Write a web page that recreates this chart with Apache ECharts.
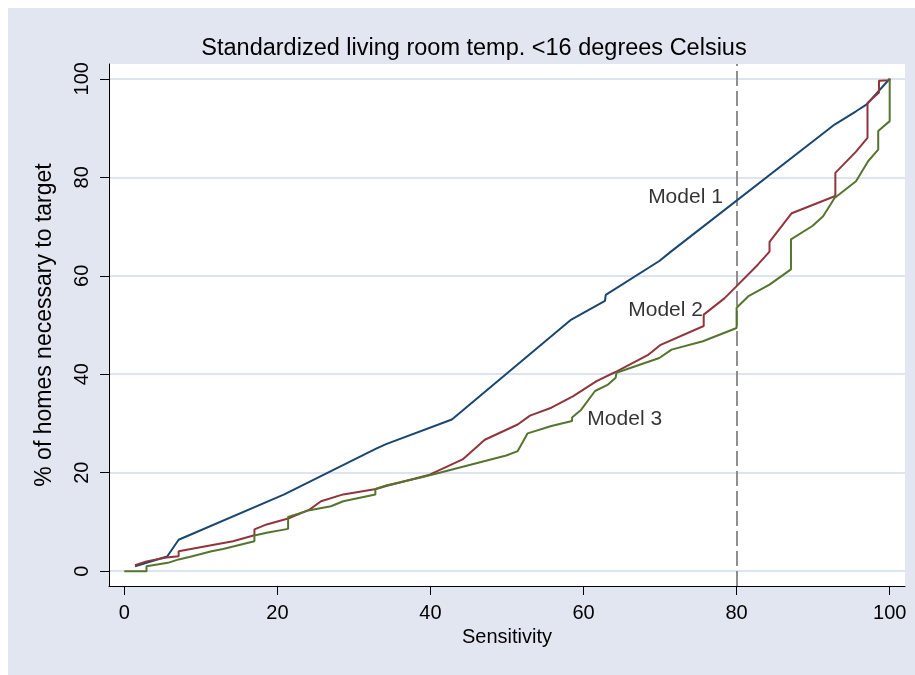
<!DOCTYPE html>
<html>
<head>
<meta charset="utf-8">
<script src="https://cdn.jsdelivr.net/npm/echarts@6/dist/echarts.min.js"></script>
<style>
html,body{margin:0;padding:0;background:#fff;}
#c{width:915px;height:675px;}
</style>
</head>
<body>
<div id="c"></div>
<script>
// ---- data ----
const xTicks = [0, 20, 40, 60, 80, 100];
const yTicks = [0, 20, 40, 60, 80, 100];
const model1 = [[1.4,1.0],[5.6,3.0],[7.1,6.4],[20.9,15.6],[32.9,24.9],[34.2,25.8],[42.8,30.8],[58.4,51.1],[62.8,54.9],[62.9,56.1],[69.9,63.0],[71.5,65.0],[92.8,90.7],[95.6,93.4],[97.0,94.8],[100,100]];
const model2 = [[1.4,1.2],[2.9,2.0],[5.5,2.8],[7.1,3.05],[7.1,4.06],[14.2,6.1],[17.0,7.3],[17.0,8.5],[18.6,9.5],[21.4,10.7],[24.2,12.5],[25.7,14.2],[28.6,15.6],[32.9,16.7],[34.2,17.3],[36.0,18.0],[39.9,19.6],[44.2,22.7],[47.1,26.7],[51.4,29.8],[53.0,31.6],[55.8,33.2],[58.6,35.5],[61.7,38.6],[64.1,40.4],[68.5,44.0],[70.0,45.9],[75.7,49.8],[75.7,52.1],[78.4,55.4],[80,57.9],[82.8,62.3],[84.3,64.9],[84.3,66.9],[87.2,72.7],[92.9,76.2],[92.9,80.9],[95.6,85.2],[97.1,88.0],[97.1,95.1],[98.6,97.2],[98.6,99.6],[100,99.7],[100,100]];
const model3 = [[0,0],[2.9,0],[2.9,1.0],[5.7,1.7],[7.1,2.4],[8.5,2.9],[11.4,4.06],[12.9,4.5],[17.0,6.1],[17.0,7.25],[18.6,7.8],[21.4,8.6],[21.4,11.0],[24.2,12.4],[27.0,13.2],[28.6,14.2],[32.8,15.6],[32.8,16.7],[34.2,17.4],[38.6,19.0],[41.2,20.0],[49.9,23.5],[51.4,24.4],[52.7,28.0],[55.8,29.5],[58.5,30.5],[58.5,31.2],[59.7,32.8],[61.5,36.6],[63.2,37.9],[64.2,39.3],[64.3,40.3],[69.9,43.3],[71.5,45.0],[75.6,46.7],[80,49.4],[80,53.5],[81.5,55.8],[84.3,58.2],[87.1,61.3],[87.1,67.4],[89.9,70.1],[91.3,72.1],[92.8,75.8],[95.6,79.2],[97.2,83.3],[98.5,85.6],[98.5,89.4],[100,91.4],[100,100]];
const seriesNames = ['Model 1', 'Model 2', 'Model 3'];
const labelPoints = [[78.2, 76.0], [75.6, 53.1], [60.5, 30.8]];
const targetSensitivity = 80;

const colors = ['#1a476f', '#90353b', '#55752f'];
const fontFam = '"Liberation Sans", Arial, Helvetica, sans-serif';

const chart = echarts.init(document.getElementById('c'), null, {renderer: 'canvas'});

const option = {
  animation: false,
  backgroundColor: '#ffffff',
  graphic: [{
    type: 'rect', z: -10, silent: true,
    shape: {x: 8, y: 8, width: 907, height: 667},
    style: {fill: '#e1e6f0'}
  }],
  title: {
    text: 'Standardized living room temp. <16 degrees Celsius',
    left: 469, top: 32, textAlign: 'center',
    textStyle: {fontFamily: fontFam, fontSize: 23.5, fontWeight: 'normal', color: '#000'}
  },
  grid: {
    left: 109, top: 64, right: 10, bottom: 89,
    show: true, backgroundColor: '#ffffff', borderWidth: 0
  },
  xAxis: {
    type: 'value', min: -2, max: 102,
    name: 'Sensitivity', nameLocation: 'middle', nameGap: 40,
    nameTextStyle: {fontFamily: fontFam, fontSize: 20, color: '#000'},
    axisLine: {show: true, onZero: false, lineStyle: {color: '#000', width: 1}},
    axisTick: {show: true, length: 9, customValues: xTicks, lineStyle: {color: '#000'}},
    axisLabel: {show: true, customValues: xTicks, margin: 17, fontFamily: fontFam, fontSize: 20, color: '#000'},
    splitLine: {show: false}
  },
  yAxis: {
    type: 'value', min: -3, max: 103,
    name: '% of homes necessary to target', nameLocation: 'middle', nameGap: 53, nameRotate: 90,
    nameTextStyle: {fontFamily: fontFam, fontSize: 23, color: '#000'},
    axisLine: {show: true, onZero: false, lineStyle: {color: '#000', width: 1}},
    axisTick: {show: true, length: 9, customValues: yTicks, lineStyle: {color: '#000'}},
    axisLabel: {show: true, customValues: yTicks, rotate: 90, margin: 17, fontFamily: fontFam, fontSize: 20, color: '#000'},
    splitLine: {show: false}
  },
  series: [
    {
      type: 'line', name: 'grid', data: [], z: 0, silent: true,
      markLine: {
        z: 0, silent: true, symbol: ['none', 'none'], label: {show: false},
        lineStyle: {color: '#dde3ef', width: 2, type: 'solid'},
        data: yTicks.map(v => ({yAxis: v}))
      }
    },
    {
      type: 'line', name: 'target', data: [], z: 1, silent: true,
      markLine: {
        z: 1, silent: true, symbol: ['none', 'none'], label: {show: false},
        lineStyle: {color: '#8f8f8f', width: 2, type: [15, 5]},
        data: [{xAxis: targetSensitivity}]
      }
    },
    ...[model1, model2, model3].map((d, i) => ({
      type: 'line', name: seriesNames[i], data: d, z: 3,
      showSymbol: false, symbol: 'none',
      lineStyle: {color: colors[i], width: 2},
      itemStyle: {color: colors[i]}
    })),
    {
      type: 'scatter', name: 'labels', z: 5, symbolSize: 0, silent: true,
      data: labelPoints.map((p, i) => ({
        value: p,
        label: {
          show: true, formatter: seriesNames[i],
          position: i === 2 ? 'right' : 'left', distance: 0,
          fontFamily: fontFam, fontSize: 21, color: '#000'
        }
      }))
    }
  ]
};
chart.setOption(option);
</script>
</body>
</html>
